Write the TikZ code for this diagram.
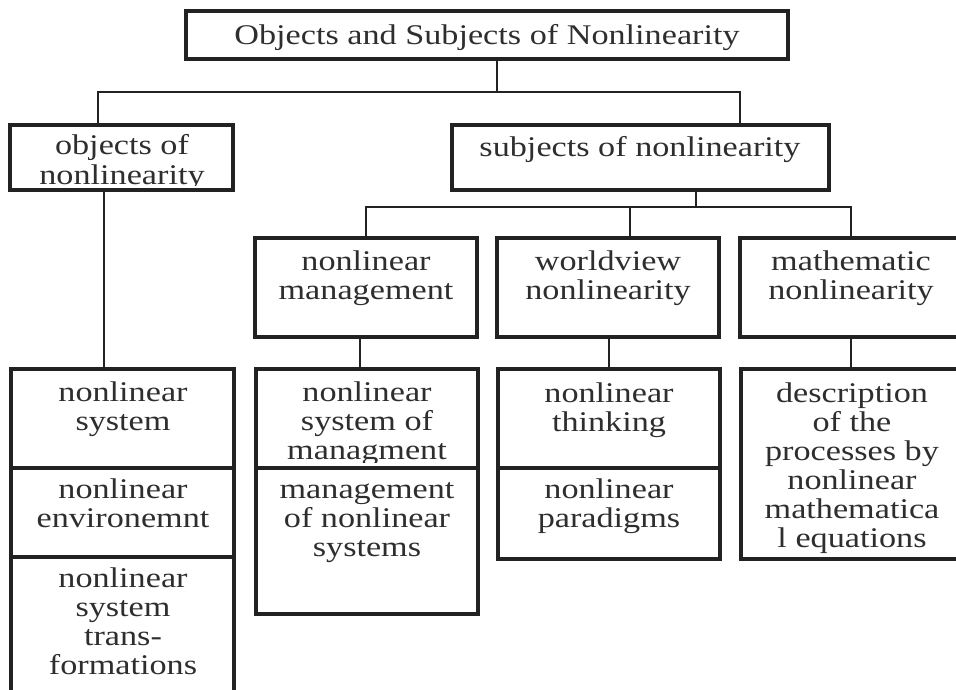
\documentclass[tikz,border=0pt]{standalone}
\usepackage{fontspec}
\setmainfont{Liberation Serif}[FakeStretch=1.2]
\definecolor{ink}{HTML}{222222}
\definecolor{txt}{HTML}{2E2E2E}
\newcommand{\lblfont}{\fontsize{28.5}{29}\selectfont}
\tikzset{
  box/.style={draw=ink, line width=3.3pt, inner sep=0pt, outer sep=0pt, anchor=north west, rectangle},
  conn/.style={draw=ink, line width=1.5pt},
  lbl/.style={font=\lblfont, text=txt, align=center, anchor=base, inner sep=0pt}
}
\begin{document}
\begin{tikzpicture}[x=1pt,y=-1pt]
\useasboundingbox (0,0) rectangle (956,690);
\clip (0,0) rectangle (956,690);
\fill[white] (0,0) rectangle (956,690);
% boxes
\node[box, minimum width=602pt, minimum height=48pt] (top) at (186,11) {};
\node[box, minimum width=223pt, minimum height=65pt] (obj) at (10,125) {};
\node[box, minimum width=377pt, minimum height=65pt] (subj) at (452,125) {};
\node[box, minimum width=222pt, minimum height=99pt] (mgmt) at (255,238) {};
\node[box, minimum width=222pt, minimum height=99pt] (world) at (497,238) {};
\node[box, minimum width=222pt, minimum height=99pt] (math) at (740,238) {};
\node[box, minimum width=223pt, minimum height=99pt] (ls1) at (11,369) {};
\node[box, minimum width=223pt, minimum height=89pt] (ls2) at (11,468) {};
\node[box, minimum width=223pt, minimum height=150pt] (ls3) at (11,557) {};
\node[box, minimum width=222pt, minimum height=99pt] (m1) at (256,369) {};
\node[box, minimum width=222pt, minimum height=146pt] (m2) at (256,468) {};
\node[box, minimum width=222pt, minimum height=99pt] (w1) at (498,369) {};
\node[box, minimum width=222pt, minimum height=91pt] (w2) at (498,468) {};
\node[box, minimum width=222pt, minimum height=190pt] (ml) at (741,369) {};
% connector coordinates
\coordinate (tj) at (497,92);
\coordinate (hl) at (98,92);
\coordinate (hr) at (740,92);
\coordinate (sj) at (696,207);
\coordinate (s1) at (366,207);
\coordinate (s2) at (630,207);
\coordinate (s3) at (851,207);
\coordinate (oc) at (104,300);
\coordinate (mc) at (360,350);
\coordinate (wc) at (609,350);
\coordinate (xc) at (851,350);
% connectors
\draw[conn] (top.south -| tj) -- (tj);
\draw[conn] (obj.north -| hl) -- (hl) -- (hr) -- (subj.north -| hr);
\draw[conn] (subj.south -| sj) -- (sj);
\draw[conn] (mgmt.north -| s1) -- (s1) -- (s3) -- (math.north -| s3);
\draw[conn] (s2) -- (world.north -| s2);
\draw[conn] (obj.south -| oc) -- (ls1.north -| oc);
\draw[conn] (mgmt.south -| mc) -- (m1.north -| mc);
\draw[conn] (world.south -| wc) -- (w1.north -| wc);
\draw[conn] (math.south -| xc) -- (ml.north -| xc);
% labels (anchor = baseline of the last line)
\node[lbl] (ttop) at (487,45) {Objects and Subjects of Nonlinearity};
\begin{scope}
\clip (12,126) rectangle (232,185);
\node[lbl] (tobj) at (122,184) {objects of\\nonlinearity};
\end{scope}
\node[lbl] (tsubj) at (640,157) {subjects of nonlinearity};
\node[lbl] (tmgmt) at (366,299) {nonlinear\\management};
\node[lbl] (tworld) at (608,299) {worldview\\nonlinearity};
\node[lbl] (tmath) at (851,299) {mathematic\\nonlinearity};
\node[lbl] (tls1) at (123,430) {nonlinear\\system};
\node[lbl] (tls2) at (123,527) {nonlinear\\environemnt};
\node[lbl] (tls3) at (123,674) {nonlinear\\system\\trans-\\formations};
\begin{scope}
\clip (257,370) rectangle (477,462);
\node[lbl] (tm1) at (367,459) {nonlinear\\system of\\managment};
\end{scope}
\node[lbl] (tm2) at (367,556) {management\\of nonlinear\\systems};
\node[lbl] (tw1) at (609,431) {nonlinear\\thinking};
\node[lbl] (tw2) at (609,527) {nonlinear\\paradigms};
\node[lbl] (tml) at (852,547) {description\\of the\\processes by\\nonlinear\\mathematica\\l equations};
\end{tikzpicture}
\end{document}
